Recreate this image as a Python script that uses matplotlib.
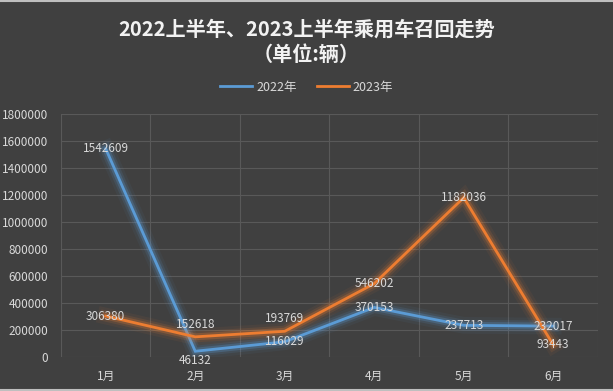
import matplotlib
matplotlib.use('Agg')
from matplotlib import pyplot as plt
import matplotlib.patheffects as pe
import numpy as np

plt.rcParams['font.family'] = ['Noto Sans CJK SC', 'DejaVu Sans']

months = ['1月', '2月', '3月', '4月', '5月', '6月']
recall_2022 = [1542609, 46132, 116029, 370153, 237713, 232017]
recall_2023 = [306380, 152618, 193769, 546202, 1182036, 93443]
series_names = ['2022年', '2023年']
yticks = [0, 200000, 400000, 600000, 800000, 1000000, 1200000, 1400000, 1600000, 1800000]

bg = '#404040'
txt = '#d9d9d9'
blue = '#5b9bd5'
orange = '#ed7d31'

fig = plt.figure(figsize=(6.13, 3.91), dpi=100, facecolor=bg)
ax = fig.add_axes([0.0995, 0.0857, 0.876, 0.6227])
ax.set_facecolor(bg)

x = np.arange(len(months))

def glow(color):
    return [pe.Stroke(linewidth=12, foreground=color, alpha=0.06),
            pe.Stroke(linewidth=8, foreground=color, alpha=0.12),
            pe.Stroke(linewidth=5, foreground=color, alpha=0.25),
            pe.Normal()]

ax.plot(x, recall_2022, color=blue, lw=2, label=series_names[0],
        path_effects=glow(blue), zorder=3, solid_joinstyle='miter')
ax.plot(x, recall_2023, color=orange, lw=2, label=series_names[1],
        path_effects=glow(orange), zorder=4, solid_joinstyle='miter')

# data labels (pixel offsets picked by eye)
off22 = {1: -7}
off23 = {1: 9, 2: 9}
for i, v in enumerate(recall_2022):
    ax.annotate(str(v), (x[i], v), xytext=(0, off22.get(i, 0)), textcoords='offset points',
                ha='center', va='center', color=txt, fontsize=8.5, zorder=5)
for i, v in enumerate(recall_2023):
    ax.annotate(str(v), (x[i], v), xytext=(0, off23.get(i, 0)), textcoords='offset points',
                ha='center', va='center', color=txt, fontsize=8.5, zorder=5)

ax.set_xlim(-0.5, len(months) - 0.5)
ax.set_ylim(0, 1800000)
ax.set_yticks(yticks)
ax.set_yticklabels([str(t) for t in yticks])
ax.set_xticks(x)
ax.set_xticklabels(months)
ax.set_xticks(np.arange(-0.5, len(months), 1), minor=True)
ax.tick_params(axis='both', which='both', length=0, colors=txt, labelsize=8.5)
ax.tick_params(axis='y', pad=9)
ax.tick_params(axis='x', pad=9)
ax.grid(axis='y', color='#595959', lw=0.8)
ax.grid(axis='x', which='minor', color='#595959', lw=0.8)
for s in ax.spines.values():
    s.set_visible(False)
ax.set_axisbelow(True)

fig.text(0.5, 0.925, '2022上半年、2023上半年乘用车召回走势', ha='center', va='center',
         color='#f2f2f2', fontsize=14.5, fontweight='bold')
fig.text(0.5, 0.86, '（单位:辆）', ha='center', va='center',
         color='#f2f2f2', fontsize=14.5, fontweight='bold')

leg = fig.legend(loc='center', bbox_to_anchor=(0.5, 0.777), ncol=2, frameon=False,
                 fontsize=9, labelcolor=txt, handlelength=2.6, columnspacing=1.6,
                 handletextpad=0.3)
for h in leg.get_lines():
    h.set_path_effects([])

# thin light frame lines at top and bottom like the screenshot
fig.add_artist(plt.Line2D([0, 1], [0.998, 0.998], color='#bfbfbf', lw=1.5))
fig.add_artist(plt.Line2D([0, 1], [0.003, 0.003], color='#bfbfbf', lw=1.5))

fig.savefig('out.png', dpi=100, facecolor=bg)
plt.close('all')
